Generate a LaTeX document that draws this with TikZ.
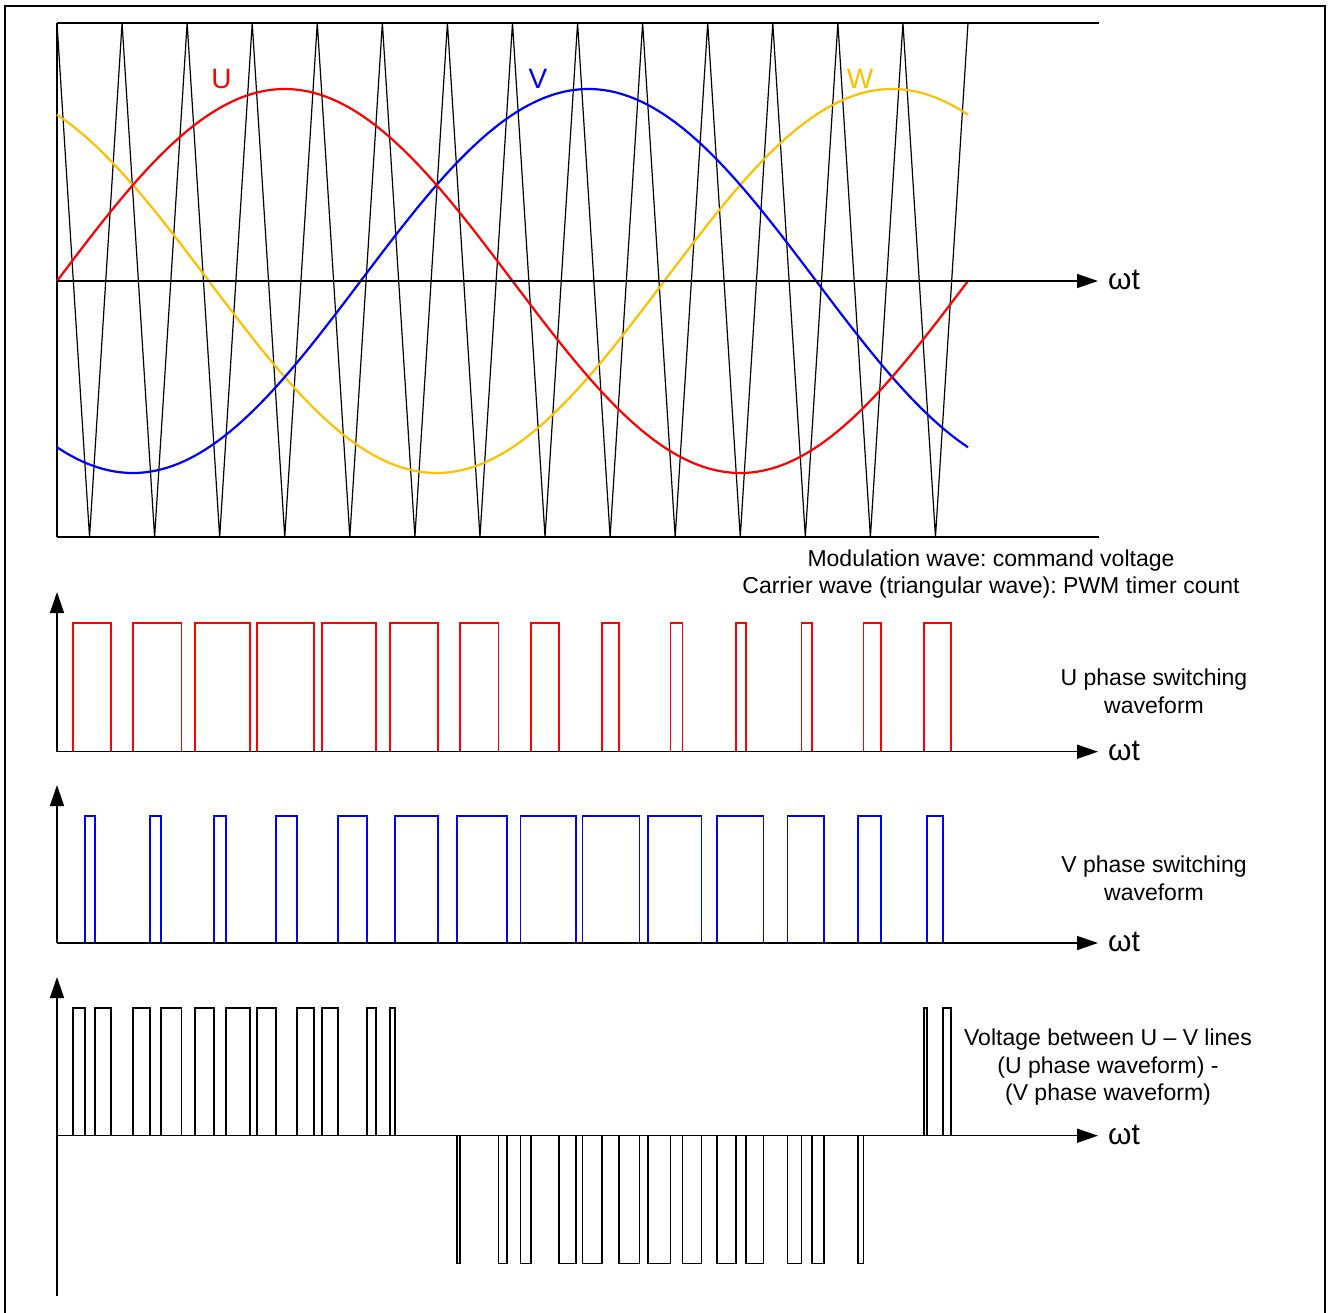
\documentclass[tikz,border=0pt]{standalone}
\usepackage{fontspec}
\setmainfont{Liberation Sans}
\usetikzlibrary{arrows.meta}
\frenchspacing

\definecolor{wyellow}{RGB}{255,192,0}

\tikzset{
  axis/.style={line width=1.4pt, -{Triangle[length=21pt,width=14pt]}},
  carrier/.style={line width=1.2pt},
  modwave/.style={line width=2.2pt},
  pulse/.style={line width=1.6pt},
  lbl/.style={font=\fontsize{23}{27.7}\selectfont, align=center, inner sep=0pt},
  phaselbl/.style={font=\fontsize{28}{30}\selectfont, inner sep=0pt, anchor=base},
  wtlbl/.style={font=\fontsize{30}{32}\selectfont, inner sep=0pt, anchor=base west},
}

\begin{document}
\begin{tikzpicture}[x=1pt, y=-1pt]
    \useasboundingbox (0,0) rectangle (1328,1312);
    \pgfmathsetmacro{\T}{911/14}

    % Outer frame
    \draw[line width=2.2pt] (5,6) rectangle (1325,1330);

    % Origins of the four panels
    \coordinate (o1) at (57,281);
    \coordinate (o2) at (57,751.7);
    \coordinate (o3) at (57,943);
    \coordinate (o4) at (57,1135.7);

    % Carrier and modulation waves
    \draw[line width=1.4pt] (57,23) -- (1099,23);
    \draw[line width=1.4pt] (57,537) -- (1099,537);
    \draw[line width=1.4pt] (57,23) -- (57,537);
    \draw[carrier] (57,23) \foreach \k in {0,...,13} {
        -- ({57+(\k+0.5)*\T},537) -- ({57+(\k+1)*\T},23) };
    \draw[modwave, wyellow] plot[smooth, domain=0:360, samples=91] ({57+\x/360*911}, {281-192*sin(\x+120)});
    \draw[modwave, blue] plot[smooth, domain=0:360, samples=91] ({57+\x/360*911}, {281-192*sin(\x-120)});
    \draw[modwave, red] plot[smooth, domain=0:360, samples=91] ({57+\x/360*911}, {281-192*sin(\x)});
    \draw[axis] (o1) -- (1098,281) coordinate (e1);
    \node[wtlbl] (wt1) at (1108,289.7) {ωt};
    \node[phaselbl, red] (lblU) at (221.5,88.7) {U};
    \node[phaselbl, blue] (lblV) at (538,88.7) {V};
    \node[phaselbl, wyellow] (lblW) at (860,88.7) {W};
    \node[lbl] (captop) at (991,574) {Modulation wave: command voltage\\Carrier wave (triangular wave): PWM timer count};

    % U phase switching
    \foreach \a/\b in {72.7/110.7, 133/181.3, 195/250, 256.7/314, 322/376, 389.7/437.7,
        460/498.3, 530.7/558.7, 601.7/619, 670.3/682.3, 735.7/746, 801.3/811.7,
        863.3/881, 923.7/951}
        \draw[pulse, red] (\a,751.7) |- (\b,622.7) -- (\b,751.7);
    \draw[axis] (o2) -- (57,592) coordinate (t2);
    \draw[axis] (o2) -- (1098,751.7) coordinate (e2);
    \node[wtlbl] (wt2) at (1108,760.4) {ωt};
    \node[lbl] (capU) at (1154,691.3) {U phase switching\\waveform};

    % V phase switching
    \foreach \a/\b in {84.7/95, 150/160.7, 214/226, 276/296.7, 337.7/367, 394.7/437.7,
        456.7/506.7, 520.3/575.7, 582.3/639.3, 647.7/701.3, 716.7/763.3, 787.3/823.7,
        858/881, 926.7/942.7}
        \draw[pulse, blue] (\a,943) |- (\b,816) -- (\b,943);
    \draw[axis] (o3) -- (57,785) coordinate (t3);
    \draw[axis] (o3) -- (1098,943) coordinate (e3);
    \node[wtlbl] (wt3) at (1108,951.7) {ωt};
    \node[lbl] (capV) at (1154,878) {V phase switching\\waveform};

    % Line voltage U - V
    \foreach \a/\b in {72.7/84.7, 95/110.7, 133/150, 160.7/181.3, 195/214, 226/250,
        256.7/276, 296.7/314, 322/337.7, 367/376, 389.7/394.7, 923.7/926.7, 942.7/951}
        \draw[pulse] (\a,1135.7) |- (\b,1007.7) -- (\b,1135.7);
    \foreach \a/\b in {456.7/460, 498.3/506.7, 520.3/530.7, 558.7/575.7, 582.3/601.7,
        619/639.3, 647.7/670.3, 682.3/701.3, 716.7/735.7, 746/763.3, 787.3/801.3,
        811.7/823.7, 858/863.3}
        \draw[pulse] (\a,1135.7) |- (\b,1263.3) -- (\b,1135.7);
    \draw[axis] (57,1296) coordinate (b4) -- (57,977) coordinate (t4);
    \draw[axis] (o4) -- (1098,1135.7) coordinate (e4);
    \node[wtlbl] (wt4) at (1108,1144.4) {ωt};
    \node[lbl] (capUV) at (1108,1067.2) {Voltage between U – V lines\\(U phase waveform) -\\(V phase waveform)};

\end{tikzpicture}
\end{document}
